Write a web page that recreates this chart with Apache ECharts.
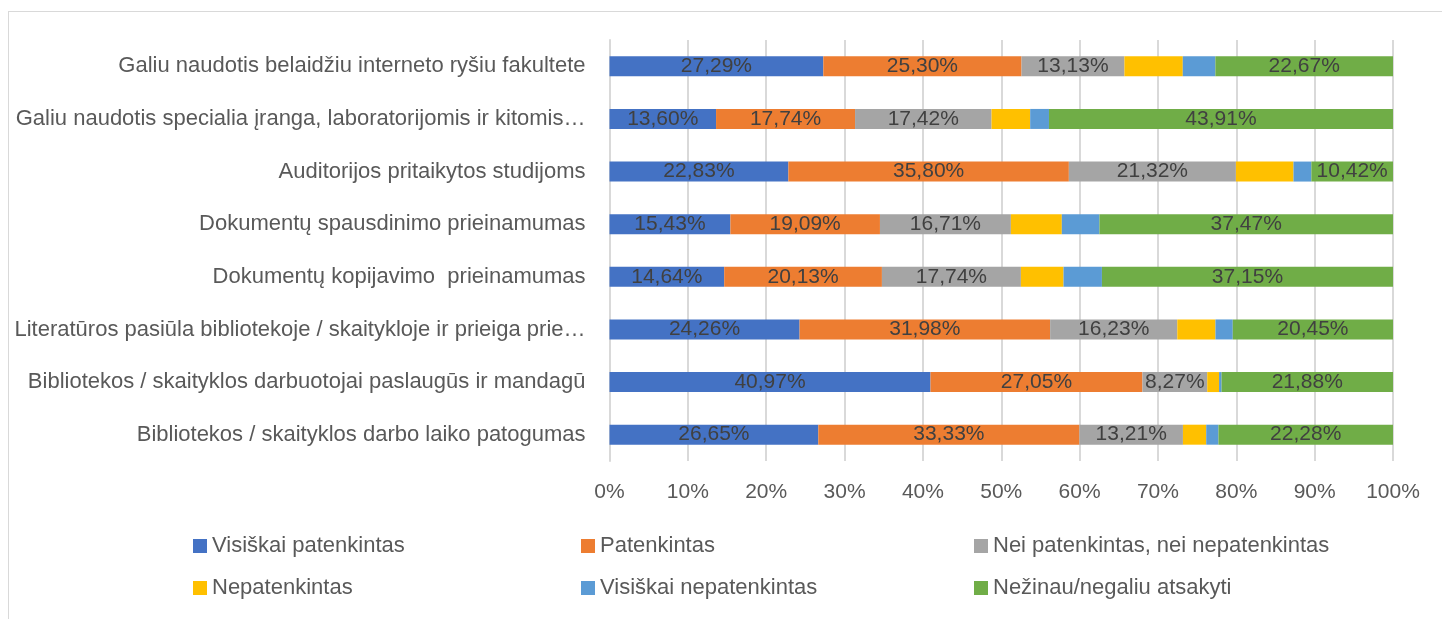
<!DOCTYPE html>
<html>
<head>
<meta charset="utf-8">
<script src="https://cdn.jsdelivr.net/npm/echarts@6/dist/echarts.min.js"></script>
<style>
  html, body { margin: 0; padding: 0; background: #fff; }
  #frame {
    position: absolute; left: 8px; top: 11px; width: 1500px; height: 700px;
    border: 1.5px solid #d9d9d9;
  }
  #chart { position: absolute; left: 0; top: 0; width: 1442px; height: 619px; }
</style>
</head>
<body>
<div id="frame"></div>
<div id="chart"></div>
<script>
// categories bottom -> top (category axis starts at the bottom)
const categories = [
  "Bibliotekos / skaityklos darbo laiko patogumas",
  "Bibliotekos / skaityklos darbuotojai paslaugūs ir mandagū",
  "Literatūros pasiūla bibliotekoje / skaitykloje ir prieiga prie…",
  "Dokumentų kopijavimo  prieinamumas",
  "Dokumentų spausdinimo prieinamumas",
  "Auditorijos pritaikytos studijoms",
  "Galiu naudotis specialia įranga, laboratorijomis ir kitomis…",
  "Galiu naudotis belaidžiu interneto ryšiu fakultete"
];

const visiskaiPatenkintas = [26.65, 40.97, 24.26, 14.64, 15.43, 22.83, 13.60, 27.29];
const patenkintas = [33.33, 27.05, 31.98, 20.13, 19.09, 35.80, 17.74, 25.30];
const neiNei = [13.21, 8.27, 16.23, 17.74, 16.71, 21.32, 17.42, 13.13];
const nepatenkintas = [2.97, 1.51, 4.87, 5.44, 6.50, 7.35, 4.93, 7.45];
const visiskaiNepatenkintas = [1.56, 0.32, 2.21, 4.90, 4.80, 2.28, 2.40, 4.16];
const nezinau = [22.28, 21.88, 20.45, 37.15, 37.47, 10.42, 43.91, 22.67];

const seriesNames = [
  "Visiškai patenkintas", "Patenkintas", "Nei patenkintas, nei nepatenkintas",
  "Nepatenkintas", "Visiškai nepatenkintas", "Nežinau/negaliu atsakyti"
];
const seriesData = [visiskaiPatenkintas, patenkintas, neiNei, nepatenkintas, visiskaiNepatenkintas, nezinau];
const colors = ["#4472C4", "#ED7D31", "#A5A5A5", "#FFC000", "#5B9BD5", "#70AD47"];
const showLabel = [true, true, true, false, false, true];

const font = "Liberation Sans";

const chart = echarts.init(document.getElementById("chart"));

const series = seriesNames.map((name, i) => ({
  name: name,
  type: "bar",
  stack: "total",
  barCategoryGap: "62%",
  data: seriesData[i],
  itemStyle: { color: colors[i] },
  label: {
    show: showLabel[i],
    position: "inside",
    color: "#404040",
    fontFamily: font,
    fontSize: 21,
    formatter: (p) => p.value.toFixed(2).replace(".", ",") + "%"
  }
}));

// legend placed as a 3 x 2 block
const legendPos = [
  [193, 535], [581, 535], [974, 535],
  [193, 577], [581, 577], [974, 577]
];
const legends = seriesNames.map((name, i) => ({
  data: [name],
  left: legendPos[i][0],
  top: legendPos[i][1],
  padding: 0,
  itemWidth: 14,
  itemHeight: 14,
  itemGap: 0,
  icon: "rect",
  textStyle: { color: "#595959", fontFamily: font, fontSize: 22 }
}));

chart.setOption({
  animation: false,
  color: colors,
  grid: { left: 609.5, right: 49, top: 40, bottom: 158 },
  legend: legends,
  xAxis: {
    type: "value",
    min: 0,
    max: 100,
    interval: 10,
    axisLine: { show: false },
    axisTick: { show: false },
    splitLine: { lineStyle: { color: "#d9d9d9", width: 2 } },
    axisLabel: {
      formatter: "{value}%",
      color: "#595959",
      fontFamily: font,
      fontSize: 21,
      margin: 21
    }
  },
  yAxis: {
    type: "category",
    data: categories,
    axisLine: { show: true, lineStyle: { color: "#d9d9d9", width: 2 } },
    axisTick: { show: false },
    axisLabel: {
      color: "#595959",
      fontFamily: font,
      fontSize: 22,
      margin: 24
    }
  },
  series: series
});
</script>
</body>
</html>
